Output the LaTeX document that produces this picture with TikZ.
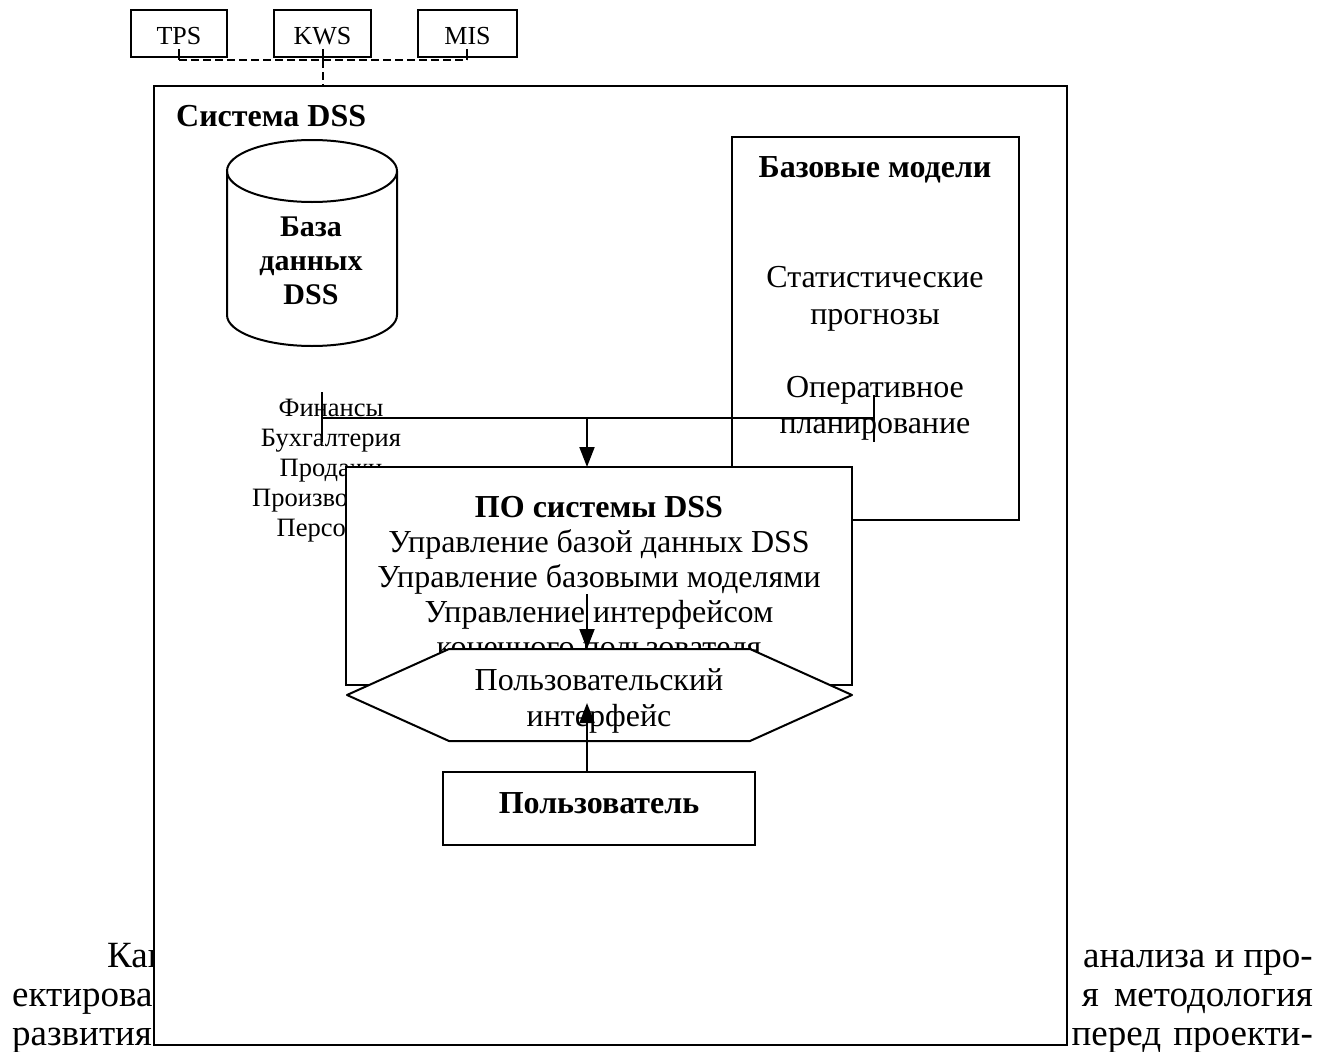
\documentclass[tikz,border=0pt]{standalone}
\usepackage{fontspec}
\setmainfont{Liberation Serif}
\usetikzlibrary{arrows.meta}
\begin{document}
\begin{tikzpicture}[x=1pt,y=-1pt,
  ln/.style={line width=2pt},
  rectbox/.style={draw, line width=2pt, fill=white, inner sep=0pt, outer sep=0pt},
  openbox/.style={draw, line width=2pt, inner sep=0pt, outer sep=0pt},
  dsh/.style={line width=2pt, dash pattern=on 8pt off 4pt},
  arr/.style={line width=2pt, -{Triangle[length=20pt,width=15pt]}},
  txt/.style={inner sep=0pt, anchor=base, font=\fontsize{32}{35}\selectfont},
  btxt/.style={inner sep=0pt, anchor=base, font=\fontsize{32}{35}\selectfont\bfseries},
  ctxt/.style={inner sep=0pt, anchor=base, font=\fontsize{30}{34}\selectfont\bfseries},
  lbl/.style={inner sep=0pt, anchor=base, font=\fontsize{26.5}{30}\selectfont},
  smalltxt/.style={inner sep=0pt, anchor=base, font=\fontsize{26}{30}\selectfont},
  bodyt/.style={inner sep=0pt, font=\fontsize{37}{38}\selectfont}]
\useasboundingbox (0,0) rectangle (1328,1052);
\fill[white] (0,0) rectangle (1328,1052);

% body text of the page (partly hidden by the frame)
\node[bodyt, anchor=base west] (b1l) at (107,967) {Как};
\node[bodyt, anchor=base east] (b1r) at (1313,967) {анализа и про-};
\node[bodyt, anchor=base west] (b2l) at (12,1006) {ектирова};
\node[bodyt, anchor=base east] (b2r) at (1313,1006) {я\hspace{6pt} методология};
\node[bodyt, anchor=base west] (b3l) at (12,1045) {развития};
\node[bodyt, anchor=base east] (b3r) at (1313,1045) {перед\hspace{3pt} проекти-};

% top systems
\node[openbox, minimum width=96pt, minimum height=47pt] (tps) at (179,33.5) {};
\node[openbox, minimum width=97pt, minimum height=47pt] (kws) at (322.5,33.5) {};
\node[openbox, minimum width=99pt, minimum height=47pt] (mis) at (467.5,33.5) {};
\node[smalltxt] (tpst) at (179,44) {TPS};
\node[smalltxt] (kwst) at (322.5,44) {KWS};
\node[smalltxt] (mist) at (467.5,44) {MIS};
\coordinate (tpsA) at (179,49);   \coordinate (tpsB) at (179,60);
\coordinate (kwsA) at (322.5,49); \coordinate (kwsB) at (322.5,60);
\coordinate (misA) at (467,49);   \coordinate (misB) at (467,60);
\draw[ln] (tpsA) -- (tpsB);
\draw[ln] (kwsA) -- (kwsB);
\draw[ln] (misA) -- (misB);
\draw[dsh] (tpsB) -- (misB);

% main frame
\node[rectbox, minimum width=913pt, minimum height=959pt] (frame) at (610.5,565.5) {};
\draw[dsh] (kwsB) -- (frame.north -| kwsB);
\node[btxt, anchor=base west] (systitle) at (176,126) {Система DSS};

% database cylinder
\coordinate (cylTop) at (312,171);
\draw[ln] (cylTop) ellipse [x radius=85, y radius=31];
\draw[ln] (227,171) -- (227,315) arc[start angle=180, end angle=0, x radius=85, y radius=31] -- (397,171);
\node[ctxt] (db1) at (311,236) {База};
\node[ctxt] (db2) at (311,270) {данных};
\node[ctxt] (db3) at (311,304) {DSS};

% base models box
\node[openbox, minimum width=287pt, minimum height=383pt] (models) at (875.5,328.5) {};
\node[btxt] (modt) at (875,177) {Базовые модели};
\node[txt] (mod1) at (875,287) {Статистические};
\node[txt] (mod2) at (875,324) {прогнозы};
\node[txt] (mod3) at (875,397) {Оперативное};
\node[txt] (mod4) at (875,433) {планирование};

% data labels
\node[lbl] (l1) at (331,416) {Финансы};
\node[lbl] (l2) at (331,446) {Бухгалтерия};
\node[lbl] (l3) at (331,476) {Продажи};
\node[lbl] (l4) at (331,506) {Производство};
\node[lbl] (l5) at (331,536) {Персонал};

% connectors to software
\coordinate (finT) at (322,392); \coordinate (finB) at (322,442);
\coordinate (opT) at (874,395);  \coordinate (opB) at (874,442);
\coordinate (hL) at (322,418);   \coordinate (hR) at (874,418);
\coordinate (hM) at (587,418);
\draw[ln] (finT) -- (finB);
\draw[ln] (opT) -- (opB);
\draw[ln] (hL) -- (hR);

% software box
\node[rectbox, minimum width=506pt, minimum height=218pt] (po) at (599,576) {};
\draw[arr] (hM) -- (hM |- po.north);
\node[btxt] (pot) at (599,517) {ПО системы DSS};
\node[txt] (po1) at (599,552) {Управление базой данных DSS};
\node[txt] (po2) at (599,587) {Управление базовыми моделями};
\node[txt] (po3) at (599,622) {Управление интерфейсом};
\node[txt] (po4) at (599,657) {конечного пользователя};

% user interface hexagon
\coordinate (poA) at (587,594);
\coordinate (hexT) at (587,649);
\draw[arr] (poA) -- (hexT);
\draw[ln, fill=white, line join=round] (347,695) -- (449,649) -- (750,649) -- (852,695) -- (750,741) -- (449,741) -- cycle;
\node[txt] (ui1) at (599,690) {Пользовательский};
\node[txt] (ui2) at (599,726) {интерфейс};

% user
\node[rectbox, minimum width=312pt, minimum height=73pt] (user) at (599,808.5) {};
\node[btxt] (usert) at (599,813) {Пользователь};
\coordinate (hexIn) at (587,703);
\draw[arr] (user.north -| hexIn) -- (hexIn);
\end{tikzpicture}
\end{document}
